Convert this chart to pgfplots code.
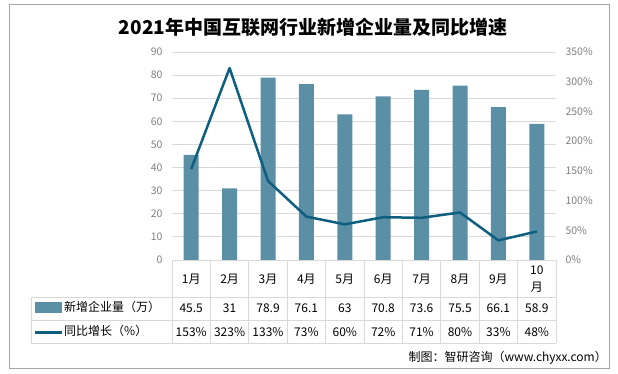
\documentclass[border=0pt]{standalone}
\usepackage{fontspec}
\setmainfont{Noto Sans CJK SC}
\usepackage{pgfplots}
\pgfplotsset{compat=1.18}
\definecolor{barc}{RGB}{91,143,166}
\definecolor{linec}{RGB}{14,94,128}
\definecolor{tickc}{RGB}{128,128,128}
\definecolor{gridc}{RGB}{217,217,217}
\definecolor{framec}{RGB}{166,166,166}
\begin{document}
\begin{tikzpicture}[x=1pt,y=1pt]
\useasboundingbox (0,0) rectangle (618,373);
\draw[framec, line width=0.8pt] (9,5) rectangle (609,369);
\node[font=\fontsize{19}{22}\selectfont\bfseries] at (313,346) {2021年中国互联网行业新增企业量及同比增速};
\begin{axis}[at={(172pt,113pt)}, anchor=south west, width=384pt, height=208pt, scale only axis,
  xmin=-0.5, xmax=9.5, ymin=0, ymax=90, ytick={0,10,...,90}, xtick=\empty,
  ymajorgrids, grid style={gridc, line width=0.8pt},
  axis line style={draw=none}, major tick length=0pt,
  /pgf/number format/assume math mode=true,
  yticklabel style={font=\fontsize{10.5}{12}\selectfont, text=tickc, xshift=-6pt},
  clip=false]
\addplot[ybar, bar width=15pt, fill=barc, draw=none, bar shift=0pt] coordinates {
 (0,45.5) (1,31) (2,78.9) (3,76.1) (4,63) (5,70.8) (6,73.6) (7,75.5) (8,66.1) (9,58.9)};
\end{axis}
\begin{axis}[at={(172pt,113pt)}, anchor=south west, width=384pt, height=208pt, scale only axis,
  xmin=-0.5, xmax=9.5, ymin=0, ymax=350, ytick={0,50,...,350}, xtick=\empty,
  axis y line*=right, axis x line=none, axis line style={draw=none}, major tick length=0pt,
  /pgf/number format/assume math mode=true,
  yticklabel={\pgfmathprintnumber{\tick}\%},
  yticklabel style={font=\fontsize{10.5}{12}\selectfont, text=tickc, xshift=6pt},
  clip=false]
\addplot[linec, line width=2.5pt, mark=none, line join=round] coordinates {
 (0,153) (1,323) (2,133) (3,73) (4,60) (5,72) (6,71) (7,80) (8,33) (9,48)};
\end{axis}
% table grid
\begin{scope}[gridc, line width=0.8pt]
\draw (172,113) -- (556,113);
\draw (31,76) -- (556,76);
\draw (31,53) -- (556,53);
\draw (31,30) -- (556,30);
\draw (31,76) -- (31,30);
\foreach \i in {0,...,10} { \draw ({172+38.4*\i},113) -- ({172+38.4*\i},30); }
\end{scope}
\begin{scope}[font=\fontsize{12}{14}\selectfont]
\foreach \m [count=\i from 0] in {1,...,9} { \node at ({191.2+38.4*\i},94) {\m 月}; }
\node[align=center, font=\fontsize{12}{17}\selectfont] at ({191.2+38.4*9},94) {10\\月};
\foreach \v [count=\i from 0] in {45.5,31,78.9,76.1,63,70.8,73.6,75.5,66.1,58.9} { \node at ({191.2+38.4*\i},65) {\v}; }
\foreach \v [count=\i from 0] in {153,323,133,73,60,72,71,80,33,48} { \node at ({191.2+38.4*\i},41) {\v\%}; }
\fill[barc] (35,60) rectangle (62,71);
\draw[linec, line width=3pt] (35,41) -- (62,41);
\node[anchor=west, inner sep=0pt] at (64,66) {新增企业量（万）};
\node[anchor=west, inner sep=0pt] at (64,42) {同比增长（\%）};
\node[anchor=east, inner sep=0pt] at (607,15) {制图：智研咨询（www.chyxx.com）};
\end{scope}
\end{tikzpicture}
\end{document}
